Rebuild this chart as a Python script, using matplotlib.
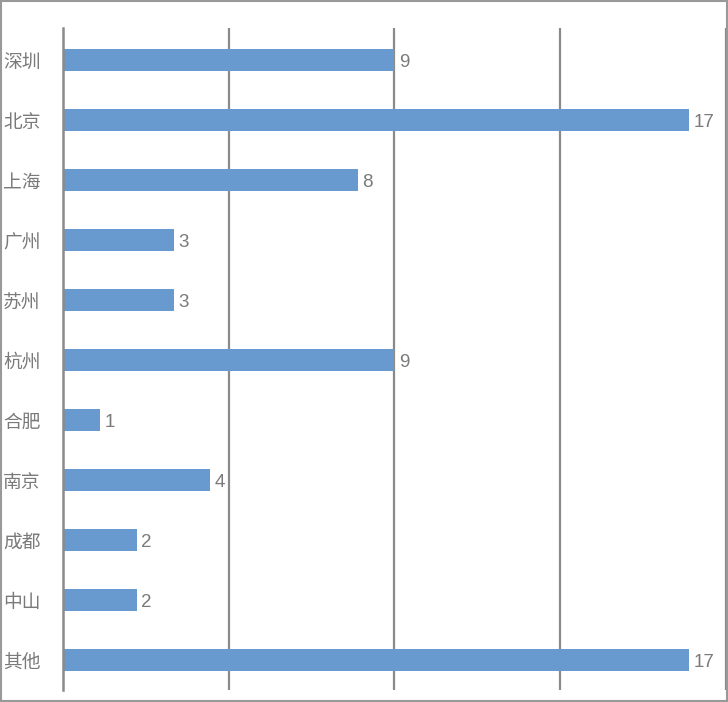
import matplotlib
matplotlib.use('Agg')
import matplotlib.pyplot as plt
from matplotlib.patches import Rectangle

plt.rcParams['font.family'] = ['Noto Sans CJK SC', 'DejaVu Sans']

# 城市别数据
cities = ['深圳', '北京', '上海', '广州', '苏州', '杭州', '合肥', '南京', '成都', '中山', '其他']
counts = [9, 17, 8, 3, 3, 9, 1, 4, 2, 2, 17]
grid_ticks = [4.5, 9, 13.5, 18]

bar_color = '#6899cf'
grid_color = '#8a8a8a'
text_color = '#7a7a7a'

fig = plt.figure(figsize=(7.28, 7.02), dpi=100)
ax = fig.add_axes([63/728, 12/702, 663/728, 662/702])

y = list(range(len(cities)))
ax.barh(y, counts, height=0.367, color=bar_color)

for yi, c in zip(y, counts):
    ax.text(c + 0.12, yi + 0.05, str(c), va='center', ha='left', fontsize=13.5,
            color=text_color, family=['Liberation Sans', 'DejaVu Sans'])

ax.set_xlim(0, 18)
ax.set_ylim(10.5, -0.533)
ax.set_yticks(y)
ax.set_yticklabels(cities, fontsize=13.5, color=text_color)
ax.tick_params(axis='y', length=0, pad=16)
ax.set_xticks([])

for g in grid_ticks:
    ax.axvline(g, color=grid_color, lw=1.6, zorder=0)

for s in ['top', 'right', 'bottom']:
    ax.spines[s].set_visible(False)
ax.spines['left'].set_color(grid_color)
ax.spines['left'].set_linewidth(1.8)

# 바깥 테두리
fig.patches.append(Rectangle((0.001, 0.002), 0.997, 0.996, transform=fig.transFigure,
                             fill=False, edgecolor='#999999', lw=1.5))

fig.savefig('out.png', dpi=100)
